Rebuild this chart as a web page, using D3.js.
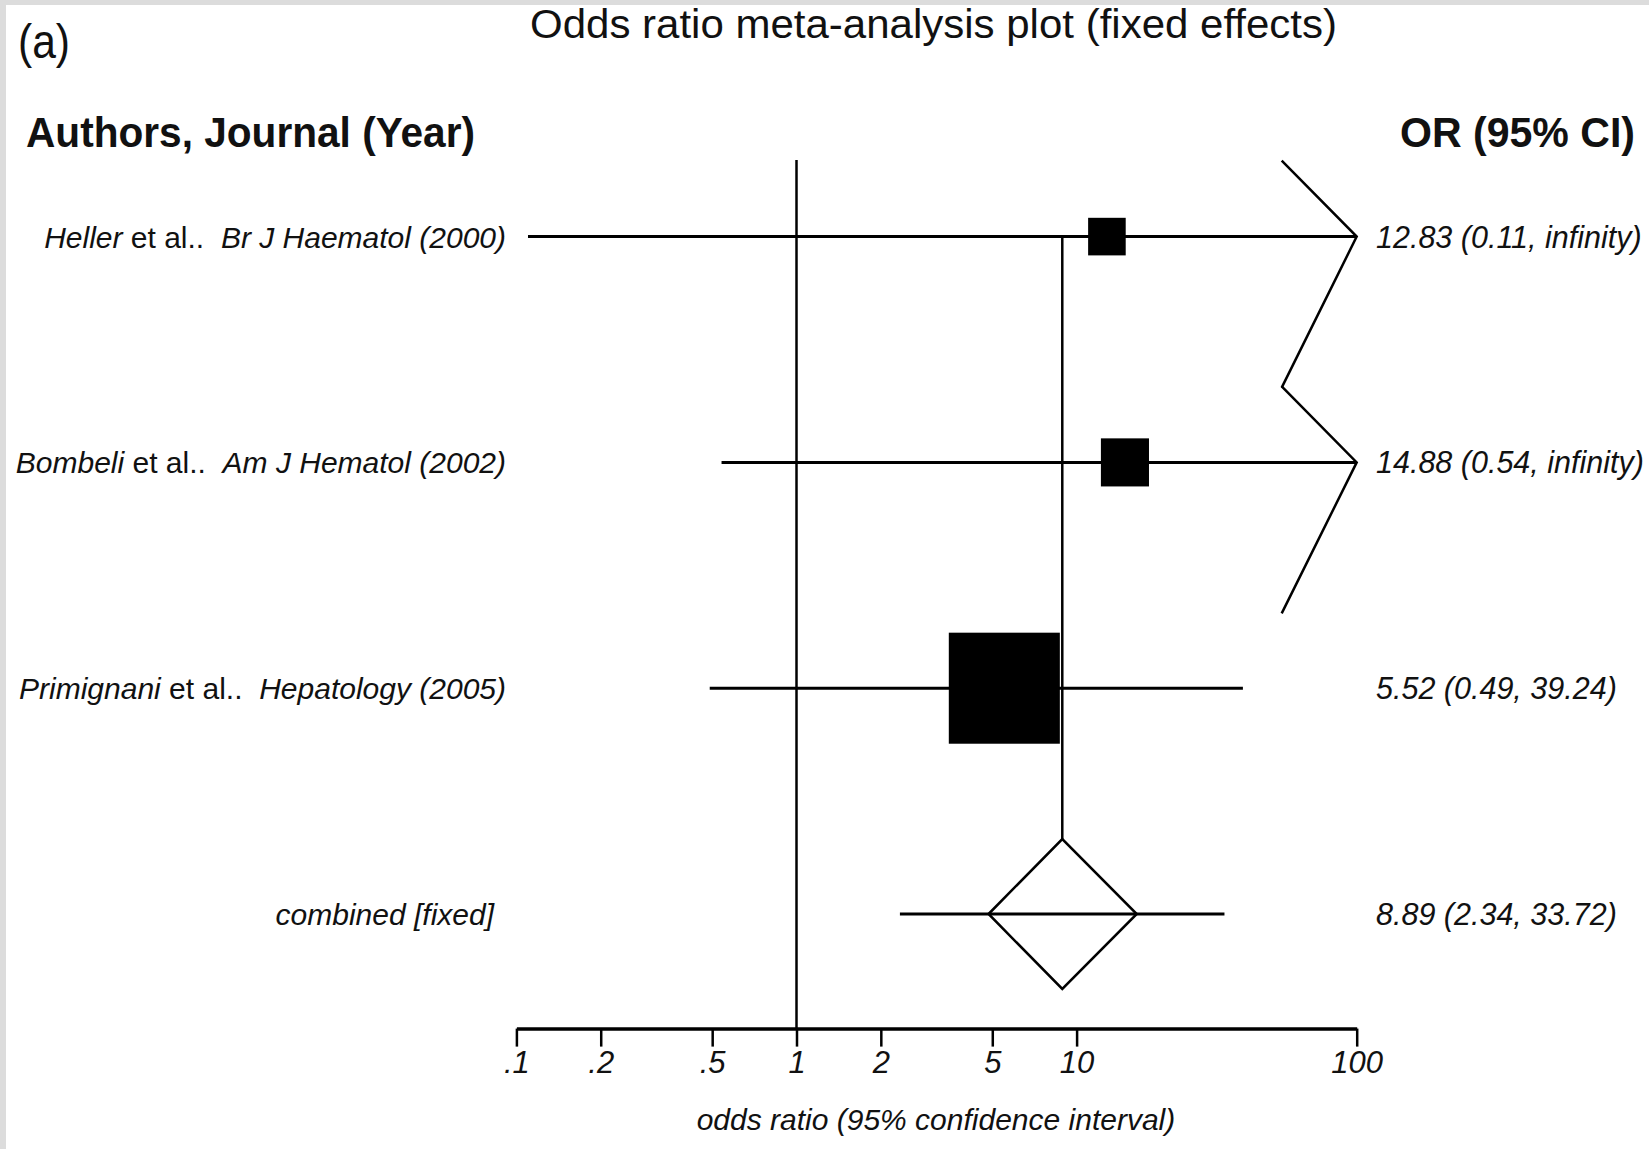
<!DOCTYPE html>
<html>
<head>
<meta charset="utf-8">
<script src="https://cdn.jsdelivr.net/npm/d3@7"></script>
<style>
  html, body { margin: 0; padding: 0; background: #dcdcdc; }
  svg { display: block; }
  text { font-family: "Liberation Sans", Arial, sans-serif; fill: #111; }
</style>
</head>
<body>
<div id="chart"></div>
<script>
const authors = ['Heller', 'Bombeli', 'Primignani'];
const journals = ['Br J Haematol (2000)', 'Am J Hematol (2002)', 'Hepatology (2005)'];
const oddsRatios = [12.83, 14.88, 5.52];
const ciLower = [0.11, 0.54, 0.49];
const ciUpper = [Infinity, Infinity, 39.24];
const weights = [8.8, 14.4, 76.8];

const pooled = [8.89, 2.34, 33.72];
const diamondBounds = [4.85, 16.4];

const tickValues = [0.1, 0.2, 0.5, 1, 2, 5, 10, 100];
const tickLabels = ['.1', '.2', '.5', '1', '2', '5', '10', '100'];

const width = 1649, height = 1149;

const svg = d3.select('#chart')
  .append('svg')
  .attr('width', width)
  .attr('height', height);

svg.append('rect')
  .attr('x', 6).attr('y', 5)
  .attr('width', width - 6).attr('height', height - 5)
  .attr('fill', '#fff');

const x = d3.scaleLog().domain([0.1, 100]).range([516.4, 1356.7]);
const y = d3.scalePoint().domain([0, 1, 2, 3]).range([236.6, 914]);
const side = d3.scaleSqrt().domain([0, 100]).range([0, 126.7]);
const axisY = 1028.6;
const fmt = d3.format('.2f');

// squeeze or stretch a text to a given width
function fit(sel, w) {
  sel.attr('textLength', w).attr('lengthAdjust', 'spacingAndGlyphs');
}

// titles
svg.append('text').attr('x', 18).attr('y', 58)
  .style('font-size', '48px').text('(a)').call(fit, 52);
svg.append('text').attr('x', 530).attr('y', 38)
  .style('font-size', '40px').text('Odds ratio meta-analysis plot (fixed effects)').call(fit, 807);
svg.append('text').attr('x', 26).attr('y', 147)
  .style('font-size', '43px').style('font-weight', 'bold')
  .text('Authors, Journal (Year)').call(fit, 449);
svg.append('text').attr('x', 1400).attr('y', 147)
  .style('font-size', '43px').style('font-weight', 'bold')
  .text('OR (95% CI)').call(fit, 235);

// line of no effect
svg.append('line')
  .attr('x1', x(1)).attr('x2', x(1))
  .attr('y1', 160).attr('y2', axisY)
  .attr('stroke', '#000').attr('stroke-width', 2.5);

// pooled estimate line
svg.append('line')
  .attr('x1', x(pooled[0])).attr('x2', x(pooled[0]))
  .attr('y1', y(0)).attr('y2', y(3) - 75)
  .attr('stroke', '#000').attr('stroke-width', 2.5);

const rows = authors.map((a, i) => ({
  author: a, journal: journals[i], or: oddsRatios[i],
  lo: ciLower[i], hi: ciUpper[i], w: weights[i], i: i
}));

const g = svg.selectAll('g.study').data(rows).enter().append('g').attr('class', 'study');

g.append('line')
  .attr('x1', d => x(d.lo))
  .attr('x2', d => x(Math.min(d.hi, 100)))
  .attr('y1', d => y(d.i)).attr('y2', d => y(d.i))
  .attr('stroke', '#000').attr('stroke-width', 3);

g.append('rect')
  .attr('x', d => x(d.or) - side(d.w) / 2)
  .attr('y', d => y(d.i) - side(d.w) / 2)
  .attr('width', d => side(d.w))
  .attr('height', d => side(d.w))
  .attr('fill', '#000');

// open-ended intervals get a chevron at the edge of the axis
g.filter(d => d.hi === Infinity).append('path')
  .attr('d', d => {
    const ax = x(100), ay = y(d.i);
    return `M${ax - 75},${ay - 76}L${ax},${ay}L${ax - 75},${ay + 151}`;
  })
  .attr('fill', 'none').attr('stroke', '#000').attr('stroke-width', 2.5);

const label = g.append('text')
  .attr('x', 506).attr('y', d => y(d.i) + 11)
  .attr('text-anchor', 'end')
  .style('font-size', '30px');
label.append('tspan').style('font-style', 'italic').text(d => d.author);
label.append('tspan').attr('xml:space', 'preserve').text(' et al..  ');
label.append('tspan').style('font-style', 'italic').text(d => d.journal);

g.append('text')
  .attr('x', 1376).attr('y', d => y(d.i) + 11)
  .style('font-size', '30.5px').style('font-style', 'italic')
  .text(d => `${fmt(d.or)} (${fmt(d.lo)}, ${d.hi === Infinity ? 'infinity' : fmt(d.hi)})`);

// combined
const cy = y(3);
svg.append('line')
  .attr('x1', x(pooled[1])).attr('x2', x(pooled[2]))
  .attr('y1', cy).attr('y2', cy)
  .attr('stroke', '#000').attr('stroke-width', 3);
svg.append('path')
  .attr('d', `M${x(diamondBounds[0])},${cy}L${x(pooled[0])},${cy - 75}L${x(diamondBounds[1])},${cy}L${x(pooled[0])},${cy + 75}Z`)
  .attr('fill', 'none').attr('stroke', '#000').attr('stroke-width', 2.5);
svg.append('text')
  .attr('x', 494).attr('y', cy + 11).attr('text-anchor', 'end')
  .style('font-size', '30px').style('font-style', 'italic')
  .text('combined [fixed]');
svg.append('text')
  .attr('x', 1376).attr('y', cy + 11)
  .style('font-size', '30.5px').style('font-style', 'italic')
  .text(`${fmt(pooled[0])} (${fmt(pooled[1])}, ${fmt(pooled[2])})`);

// axis
const axis = svg.append('g')
  .attr('transform', `translate(0,${axisY})`)
  .call(d3.axisBottom(x).tickValues(tickValues)
    .tickFormat((d, i) => tickLabels[i])
    .tickSize(18).tickSizeOuter(0).tickPadding(4));
axis.select('.domain').attr('stroke', '#000').attr('stroke-width', 3.5);
axis.selectAll('.tick line').attr('stroke', '#000').attr('stroke-width', 2.5);
axis.selectAll('.tick text')
  .attr('font-family', null)
  .style('font-size', '31px').style('font-style', 'italic').attr('fill', '#111');

svg.append('text')
  .attr('x', 890 * 1649 / 1568).attr('y', 1130)
  .attr('text-anchor', 'middle')
  .style('font-size', '30px').style('font-style', 'italic')
  .text('odds ratio (95% confidence interval)');
</script>
</body>
</html>
